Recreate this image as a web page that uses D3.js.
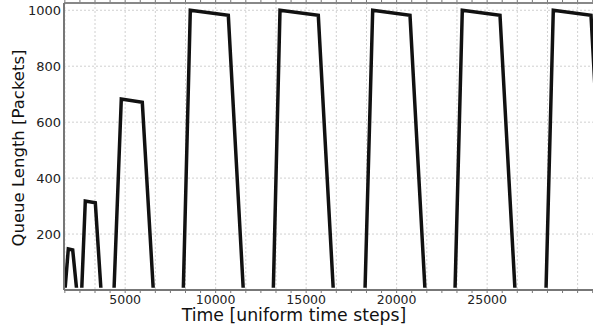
<!DOCTYPE html>
<html>
<head>
<meta charset="utf-8">
<script src="https://cdn.jsdelivr.net/npm/d3@7"></script>
<style>
  body { margin: 0; background: #fff; }
  svg { display: block; font-family: "DejaVu Sans", sans-serif; }
</style>
</head>
<body>
<div id="chart"></div>
<script>
// queue length trace
const timeSteps = [1620, 1675, 1858, 2101, 2322, 2598, 2797, 3350, 3664,
  4383, 4786, 5946, 6554, 8212, 8599, 10699, 11527, 13185, 13555, 15671, 16500,
  18252, 18677, 20738, 21567, 23225, 23628, 25711, 26540, 28253, 28656, 30740, 31569];
const queueLength = [0, 0, 147, 143, 0, 0, 318, 312, 0,
  0, 683, 671, 0, 0, 1000, 982, 0, 0, 1000, 982, 0,
  0, 1000, 982, 0, 0, 1000, 982, 0, 0, 1000, 982, 0];
const xTickLabels = [5000, 10000, 15000, 20000, 25000];
const yTickLabels = [200, 400, 600, 800, 1000];

const W = 593, H = 326;
const mLeft = 64, mRight = 593, mTop = 3, mBottom = 290;

const svg = d3.select("#chart").append("svg")
    .attr("width", W)
    .attr("height", H);

const x = d3.scaleLinear().domain([1620, 30850]).range([mLeft, mRight]);
const y = d3.scaleLinear().domain([0, 1026]).range([mBottom, mTop]);

// grid
const gridX = d3.range(5000 / 3, 30850, 5000 / 3);
svg.append("g").selectAll("line").data(gridX).join("line")
    .attr("x1", d => x(d)).attr("x2", d => x(d))
    .attr("y1", mTop).attr("y2", mBottom)
    .attr("stroke", "#d0d0d0").attr("stroke-dasharray", "2,2");
svg.append("g").selectAll("line").data(yTickLabels).join("line")
    .attr("x1", mLeft).attr("x2", mRight)
    .attr("y1", d => y(d)).attr("y2", d => y(d))
    .attr("stroke", "#d0d0d0").attr("stroke-dasharray", "2,2");

// data line (the part lying on zero is hidden under the axis)
svg.append("clipPath").attr("id", "clip")
  .append("rect").attr("x", mLeft).attr("y", mTop)
    .attr("width", mRight - mLeft).attr("height", mBottom - mTop - 2.2);

const pts = timeSteps.map((t, i) => [t, queueLength[i]]);
svg.append("path")
    .datum(pts)
    .attr("clip-path", "url(#clip)")
    .attr("fill", "none")
    .attr("stroke", "#111")
    .attr("stroke-width", 3.5)
    .attr("stroke-linejoin", "miter")
    .attr("d", d3.line().x(d => x(d[0])).y(d => y(d[1])));

// minor ticks on top and bottom
const minor = d3.range(5000 / 6, 30850, 5000 / 6).filter(d => x(d) >= mLeft);
svg.append("g").selectAll("line").data(minor).join("line")
    .attr("x1", d => x(d)).attr("x2", d => x(d))
    .attr("y1", mBottom).attr("y2", mBottom + 3)
    .attr("stroke", "#777");
svg.append("g").selectAll("line").data(minor).join("line")
    .attr("x1", d => x(d)).attr("x2", d => x(d))
    .attr("y1", 0).attr("y2", mTop)
    .attr("stroke", "#777");

// frame
svg.append("line").attr("x1", mLeft).attr("x2", mRight).attr("y1", mBottom).attr("y2", mBottom)
    .attr("stroke", "#777").attr("stroke-width", 2);
svg.append("line").attr("x1", mLeft).attr("x2", mRight).attr("y1", mTop).attr("y2", mTop)
    .attr("stroke", "#888").attr("stroke-width", 2);
svg.append("line").attr("x1", mLeft).attr("x2", mLeft).attr("y1", mTop).attr("y2", mBottom)
    .attr("stroke", "#777").attr("stroke-width", 2);

// tick labels
svg.append("g").selectAll("text").data(xTickLabels).join("text")
    .attr("x", d => x(d)).attr("y", 304)
    .attr("text-anchor", "middle")
    .attr("font-size", 12.5)
    .attr("fill", "#222")
    .text(d => d);
svg.append("g").selectAll("text").data(yTickLabels).join("text")
    .attr("x", 61).attr("y", d => y(d))
    .attr("dy", "0.35em")
    .attr("text-anchor", "end")
    .attr("font-size", 13)
    .attr("fill", "#222")
    .text(d => d);

// axis titles
svg.append("text")
    .attr("x", 294).attr("y", 320.5)
    .attr("text-anchor", "middle")
    .attr("font-size", 17.3)
    .attr("fill", "#111")
    .text("Time [uniform time steps]");
svg.append("text")
    .attr("transform", "translate(24,148) rotate(-90)")
    .attr("text-anchor", "middle")
    .attr("font-size", 16.5)
    .attr("fill", "#111")
    .text("Queue Length [Packets]");
</script>
</body>
</html>
